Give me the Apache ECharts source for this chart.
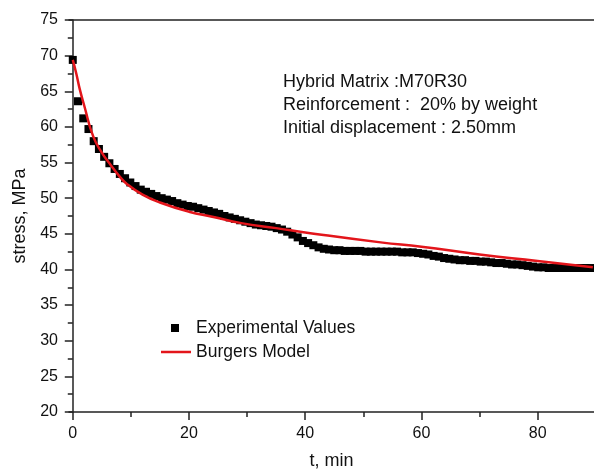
<!DOCTYPE html>
<html>
<head>
<meta charset="utf-8">
<script src="https://cdn.jsdelivr.net/npm/echarts@6/dist/echarts.min.js"></script>
<style>
html, body { margin: 0; padding: 0; background: #fff; }
#chart { width: 594px; height: 472px; }
</style>
</head>
<body>
<div id="chart"></div>
<script>
// experimental points, t in min, stress in MPa
var expTime = [0, 0.9, 1.8, 2.7, 3.6, 4.5, 5.4, 6.3, 7.2, 8.1, 9.0, 9.9, 10.8, 11.7, 12.6, 13.5, 14.4, 15.3, 16.2, 17.1,
    18.0, 18.9, 19.8, 20.7, 21.6, 22.5, 23.4, 24.3, 25.2, 26.1, 27.0, 27.9, 28.8, 29.7, 30.6, 31.5, 32.4, 33.3, 34.2, 35.1,
    36.0, 36.9, 37.8, 38.7, 39.6, 40.5, 41.4, 42.3, 43.2, 44.1, 45.0, 45.9, 46.8, 47.7, 48.6, 49.5, 50.4, 51.3, 52.2, 53.1,
    54.0, 54.9, 55.8, 56.7, 57.6, 58.5, 59.4, 60.3, 61.2, 62.1, 63.0, 63.9, 64.8, 65.7, 66.6, 67.5, 68.4, 69.3, 70.2, 71.1,
    72.0, 72.9, 73.8, 74.7, 75.6, 76.5, 77.4, 78.3, 79.2, 80.1, 81.0, 81.9, 82.8, 83.7, 84.6, 85.5, 86.4, 87.3, 88.2, 89.1];
var expStress = [69.4, 63.6, 61.2, 59.7, 58.0, 56.9, 55.8, 54.9, 54.1, 53.4, 52.8, 52.2, 51.7, 51.2, 50.9, 50.6, 50.3, 50.0, 49.8, 49.6,
    49.3, 49.1, 48.9, 48.8, 48.6, 48.4, 48.2, 48.0, 47.8, 47.5, 47.3, 47.1, 46.9, 46.7, 46.5, 46.3, 46.2, 46.1, 46.0, 45.8,
    45.6, 45.3, 44.9, 44.5, 44.0, 43.7, 43.4, 43.1, 42.9, 42.8, 42.7, 42.7, 42.6, 42.6, 42.6, 42.6, 42.5, 42.5, 42.5, 42.5,
    42.5, 42.5, 42.5, 42.4, 42.4, 42.4, 42.3, 42.2, 42.1, 41.9, 41.8, 41.6, 41.5, 41.4, 41.3, 41.3, 41.2, 41.2, 41.1, 41.1,
    41.0, 40.9, 40.9, 40.8, 40.7, 40.7, 40.6, 40.5, 40.4, 40.3, 40.3, 40.2, 40.2, 40.2, 40.2, 40.2, 40.2, 40.2, 40.2, 40.2];

// Burgers model curve, read at a few points
var modelTime = [0, 0.6, 1.2, 2, 3.5, 5, 6.4, 8, 9.3, 12, 15, 20, 24, 29, 35, 40, 53, 60, 70, 80, 89.5];
var modelStress = [69.4, 67.5, 65.3, 62.9, 58.7, 56.4, 54.8, 53.1, 52.0, 50.5, 49.4, 48.1, 47.4, 46.5, 45.8, 45.2, 43.8, 43.2, 42.1, 41.2, 40.3];

var xLabelValues = [0, 20, 40, 60, 80];
var xMinorValues = [10, 30, 50, 70, 90];
var notes = ['Hybrid Matrix :M70R30', 'Reinforcement :  20% by weight', 'Initial displacement : 2.50mm'];

var font = 'Liberation Sans, Arial, sans-serif';
var axisColor = '#222';
var red = '#e3151b';

function zip(a, b) {
    var out = [];
    for (var i = 0; i < a.length; i++) out.push([a[i], b[i]]);
    return out;
}

var chart = echarts.init(document.getElementById('chart'));
var xMin = -0.65, xMax = 89.7;

var option = {
    animation: false,
    grid: { left: 69, right: 0, top: 20, bottom: 60, outerBoundsMode: 'none' },
    legend: [
        {
            data: ['Experimental Values'],
            left: 171, top: 319, padding: 0,
            itemWidth: 8, itemHeight: 8, icon: 'rect',
            textStyle: { fontFamily: font, fontSize: 17.5, color: '#111', padding: [0, 0, 0, 12] }
        },
        {
            data: [{ name: 'Burgers Model', icon: 'rect', itemStyle: { color: red } }],
            left: 161, top: 343, padding: 0,
            itemWidth: 30, itemHeight: 2.5,
            textStyle: { fontFamily: font, fontSize: 17.5, color: '#111' }
        }
    ],
    xAxis: [
        {
            type: 'value', min: xMin, max: xMax, position: 'bottom',
            name: 't, min', nameLocation: 'middle', nameGap: 40,
            nameTextStyle: { fontFamily: font, fontSize: 18, color: '#111' },
            axisLine: { lineStyle: { color: axisColor, width: 1.5 } },
            axisTick: { customValues: xLabelValues, length: 8, lineStyle: { color: axisColor, width: 1.5 } },
            axisLabel: { customValues: xLabelValues, margin: 14, fontFamily: font, fontSize: 16, color: '#111' },
            splitLine: { show: false }
        },
        {
            type: 'value', min: xMin, max: xMax, position: 'bottom',
            axisLine: { show: false },
            axisTick: { customValues: xMinorValues, length: 5, lineStyle: { color: axisColor, width: 1.5 } },
            axisLabel: { show: false },
            splitLine: { show: false }
        },
        {
            type: 'value', min: xMin, max: xMax, position: 'top',
            axisLine: { lineStyle: { color: axisColor, width: 1.5 } },
            axisTick: { show: false },
            axisLabel: { show: false },
            splitLine: { show: false }
        }
    ],
    yAxis: {
        type: 'value', min: 20, max: 75, interval: 5,
        name: 'stress, MPa', nameLocation: 'middle', nameGap: 40, nameRotate: 90,
        nameTextStyle: { fontFamily: font, fontSize: 18, color: '#111' },
        axisLine: { show: true, lineStyle: { color: axisColor, width: 1.5 } },
        axisTick: { show: true, length: 8, lineStyle: { color: axisColor, width: 1.5 } },
        minorTick: { show: true, splitNumber: 2, length: 5, lineStyle: { color: axisColor, width: 1.5 } },
        axisLabel: { margin: 11, fontFamily: font, fontSize: 16, color: '#111' },
        splitLine: { show: false }
    },
    graphic: notes.map(function (t, i) {
        return {
            type: 'text', left: 283, top: 73 + i * 23,
            style: { text: t, fontFamily: font, fontSize: 18, fill: '#111' }
        };
    }),
    series: [
        {
            name: 'Experimental Values', type: 'scatter',
            symbol: 'rect', symbolSize: 8,
            itemStyle: { color: '#000', opacity: 1 },
            data: zip(expTime, expStress)
        },
        {
            name: 'Burgers Model', type: 'line',
            smooth: true, symbol: 'none', z: 5,
            lineStyle: { color: red, width: 2.5 },
            itemStyle: { color: red },
            data: zip(modelTime, modelStress)
        }
    ]
};
chart.setOption(option);
</script>
</body>
</html>
